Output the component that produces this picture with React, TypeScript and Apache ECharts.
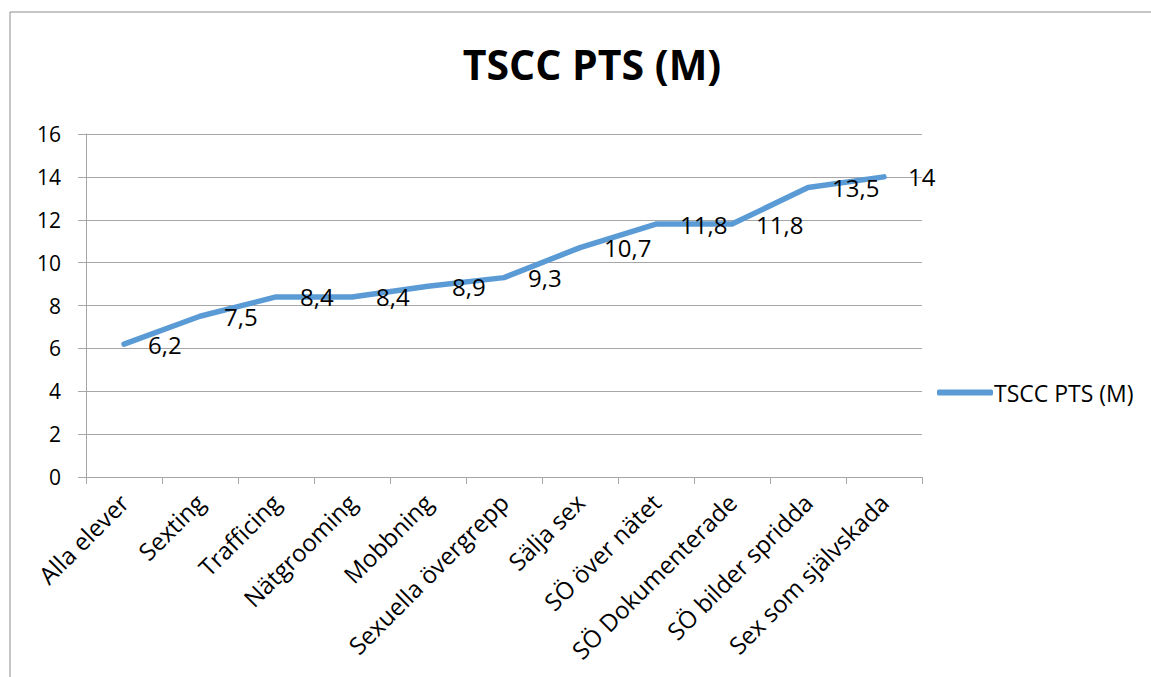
import React, { useEffect, useRef } from "react";
import * as echarts from "echarts";

const categories = [
  "Alla elever",
  "Sexting",
  "Trafficing",
  "Nätgrooming",
  "Mobbning",
  "Sexuella övergrepp",
  "Sälja sex",
  "SÖ över nätet",
  "SÖ Dokumenterade",
  "SÖ bilder spridda",
  "Sex som självskada",
];
const values = [6.2, 7.5, 8.4, 8.4, 8.9, 9.3, 10.7, 11.8, 11.8, 13.5, 14];
const seriesName = "TSCC PTS (M)";
const titleText = "TSCC PTS (M)";

const FONT = "'Open Sans', 'Noto Sans', sans-serif";
const BLUE = "#5b9bd5";

export default function App() {
  const ref = useRef<HTMLDivElement>(null);
  useEffect(() => {
    if (!ref.current) return;
    const chart = echarts.init(ref.current, undefined, { renderer: "svg" });
    chart.setOption({
      animation: false,
      backgroundColor: "#ffffff",
      title: {
        text: titleText,
        left: 587,
        top: 38,
        textAlign: "center",
        textStyle: { fontFamily: FONT, fontSize: 41, fontWeight: "bold", color: "#000" },
      },
      graphic: [
        {
          type: "rect",
          shape: { x: 10, y: 12, width: 1300, height: 800 },
          style: { fill: "none", stroke: "#8c8c8c", lineWidth: 1 },
          silent: true,
        },
      ],
      legend: {
        left: 932,
        top: 376,
        itemWidth: 56,
        itemHeight: 6,
        itemGap: 0,
        icon: "roundRect",
        itemStyle: { color: BLUE, opacity: 1 },
        textStyle: { fontFamily: FONT, fontSize: 23, color: "#000", padding: [0, 0, 0, -4] },
        data: [{ name: seriesName, icon: "roundRect" }],
      },
      grid: { left: 86, right: 229, top: 134, bottom: 200, containLabel: false },
      xAxis: {
        type: "category",
        data: categories,
        boundaryGap: true,
        axisLine: { lineStyle: { color: "#a6a6a6", width: 1 } },
        axisTick: { show: true, length: 7, lineStyle: { color: "#a6a6a6" } },
        axisLabel: {
          rotate: 45,
          interval: 0,
          margin: 21,
          fontFamily: FONT,
          fontSize: 24,
          color: "#000",
        },
      },
      yAxis: {
        type: "value",
        min: 0,
        max: 16,
        interval: 2,
        axisLine: { show: true, lineStyle: { color: "#a6a6a6", width: 1 } },
        axisTick: { show: true, length: 8, lineStyle: { color: "#a6a6a6" } },
        axisLabel: { margin: 25, fontFamily: FONT, fontSize: 21, color: "#000" },
        splitLine: { lineStyle: { color: "#a6a6a6", width: 1 } },
      },
      series: [
        {
          name: seriesName,
          type: "line",
          data: values,
          symbol: "circle",
          symbolSize: 4,
          showSymbol: true,
          lineStyle: { color: BLUE, width: 5.5, cap: "round", join: "round" },
          itemStyle: { color: BLUE },
          label: {
            show: true,
            position: "right",
            distance: 22,
            fontFamily: FONT,
            fontSize: 24,
            color: "#000",
            formatter: (p: any) => String(p.value).replace(".", ","),
          },
        },
      ],
    });
    return () => chart.dispose();
  }, []);
  return (
    <div
      ref={ref}
      style={{ position: "fixed", left: 0, top: 0, width: 1151, height: 677 }}
    />
  );
}
